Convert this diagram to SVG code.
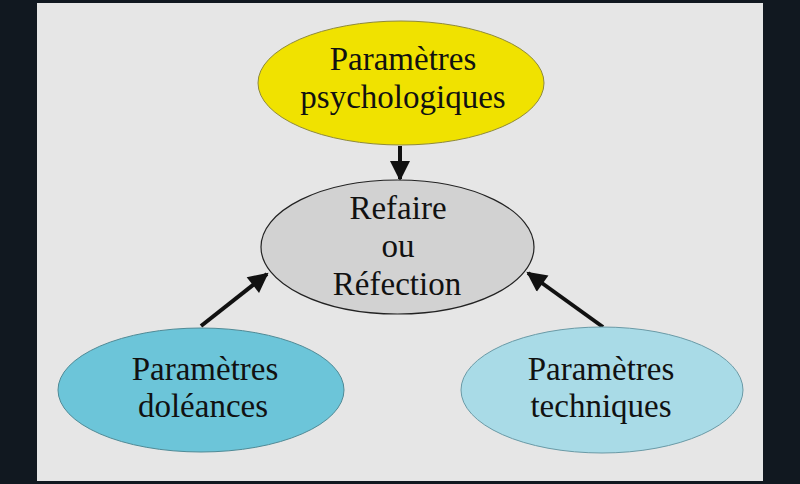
<svg xmlns="http://www.w3.org/2000/svg" width="800" height="484" viewBox="0 0 800 484">
<style>
.t{font-family:"Liberation Serif","Times New Roman",serif;font-size:33px;fill:#111;text-anchor:middle}
.c{stroke:#111;stroke-width:4;fill:none}
</style>
<defs>
<marker id="ah" viewBox="0 0 10 10" refX="9" refY="5" markerWidth="5.5" markerHeight="5" orient="auto" markerUnits="strokeWidth">
<path d="M0,0 L10,5 L0,10 z" fill="#111"/>
</marker>
</defs>
<rect x="0" y="0" width="800" height="484" fill="#111820"/>
<rect x="37" y="3" width="726" height="478" fill="#e6e6e6"/>
<g id="connectors">
<line class="c" x1="400" y1="146" x2="400" y2="179" marker-end="url(#ah)"/>
<line class="c" x1="201" y1="326" x2="267" y2="274" marker-end="url(#ah)"/>
<line class="c" x1="603" y1="327" x2="528" y2="273" marker-end="url(#ah)"/>
</g>
<g id="psy">
<ellipse cx="401" cy="83" rx="143" ry="62" fill="#f0e200" stroke="#8f8a3a" stroke-width="1"/>
<text class="t" x="403" y="70">Paramètres</text>
<text class="t" x="403" y="108">psychologiques</text>
</g>
<g id="refaire">
<ellipse cx="397.5" cy="247" rx="136.5" ry="67" fill="#d2d2d2" stroke="#222" stroke-width="1.2"/>
<text class="t" x="398" y="219">Refaire</text>
<text class="t" x="398" y="257">ou</text>
<text class="t" x="397" y="295">Réfection</text>
</g>
<g id="doleances">
<ellipse cx="201" cy="390" rx="143" ry="62" fill="#6cc5d9" stroke="#4f8a96" stroke-width="1"/>
<text class="t" x="205" y="380">Paramètres</text>
<text class="t" x="203" y="417">doléances</text>
</g>
<g id="techniques">
<ellipse cx="602" cy="390" rx="141" ry="63" fill="#a9dbe7" stroke="#6a9aa6" stroke-width="1"/>
<text class="t" x="601" y="380">Paramètres</text>
<text class="t" x="601" y="417">techniques</text>
</g>
</svg>
